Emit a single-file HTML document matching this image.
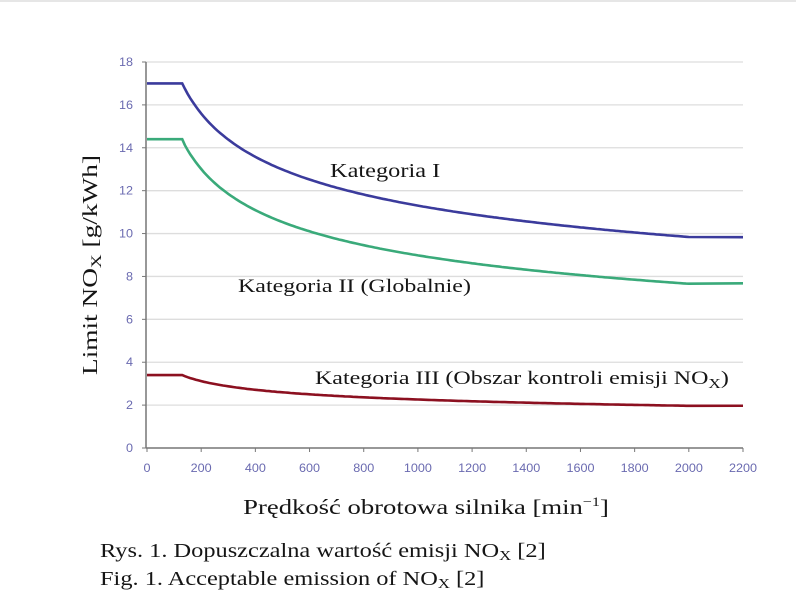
<!DOCTYPE html>
<html><head><meta charset="utf-8"><style>
html,body{margin:0;padding:0;background:#fff;width:796px;height:615px;overflow:hidden}
svg{display:block}
.t{font-family:"Liberation Sans",sans-serif;font-size:12px;fill:#6a6ab0}
.s{font-family:"Liberation Serif",serif;fill:#151515}
</style></head><body>
<svg id="c" width="796" height="615" xmlns="http://www.w3.org/2000/svg">
<line x1="0" y1="1" x2="796" y2="1" stroke="#ccc" stroke-width="1"/>
<g id="grid"></g>
<line x1="146" y1="62" x2="146" y2="448" stroke="#777" stroke-width="1.5"/>
<line x1="146" y1="448" x2="743" y2="448" stroke="#777" stroke-width="1.5"/>
<g id="ticks"></g>
<path id="p1" fill="none" stroke="#3b3b9c" stroke-width="2.6"/>
<path id="p2" fill="none" stroke="#3aaa7a" stroke-width="2.6"/>
<path id="p3" fill="none" stroke="#8c1020" stroke-width="2.6"/>
<text class="s" font-size="19.5" transform="translate(330,177) scale(1.25,1)">Kategoria I</text>
<text class="s" font-size="19.5" transform="translate(238,292) scale(1.23,1)">Kategoria II (Globalnie)</text>
<text class="s" font-size="19.5" transform="translate(315,384) scale(1.23,1)">Kategoria III (Obszar kontroli emisji NO<tspan font-size="14" dy="4">X</tspan><tspan dy="-4">)</tspan></text>
<text class="s" font-size="21.5" transform="translate(97,265) rotate(-90) scale(1.27,1)" text-anchor="middle">Limit NO<tspan font-size="15" dy="4">X</tspan><tspan dy="-4"> [g/kWh]</tspan></text>
<text class="s" font-size="21.5" transform="translate(426,514) scale(1.24,1)" text-anchor="middle">Prędkość obrotowa silnika [min<tspan font-size="13" dy="-8">−1</tspan><tspan dy="8">]</tspan></text>
<text class="s" font-size="20.5" transform="translate(100,557) scale(1.19,1)">Rys. 1. Dopuszczalna wartość emisji NO<tspan font-size="14" dy="3">X</tspan><tspan dy="-3"> [2]</tspan></text>
<text class="s" font-size="20.5" transform="translate(100,585) scale(1.19,1)">Fig. 1.  Acceptable emission of NO<tspan font-size="14" dy="3">X</tspan><tspan dy="-3"> [2]</tspan></text>
</svg>
<script>
var NS="http://www.w3.org/2000/svg";
function X(n){return 147+n/2200*596}
function Y(v){return 448-v/18*386}
var g=document.getElementById('grid'),tk=document.getElementById('ticks');
function el(p,t,a,txt){var e=document.createElementNS(NS,t);for(var k in a)e.setAttribute(k,a[k]);if(txt)e.textContent=txt;p.appendChild(e);return e}
for(var v=2;v<=18;v+=2)el(g,'line',{x1:146,x2:743,y1:Y(v),y2:Y(v),stroke:'#ddd','stroke-width':1.3});
for(var v=0;v<=18;v+=2){el(tk,'line',{x1:142,x2:146,y1:Y(v),y2:Y(v),stroke:'#777'});el(tk,'text',{'class':'t','text-anchor':'end',transform:'translate(133,'+(Y(v)+4)+') scale(1.05,1)'},String(v));}
for(var n=0;n<=2200;n+=200){el(tk,'line',{x1:X(n),x2:X(n),y1:448,y2:452,stroke:'#777'});el(tk,'text',{'class':'t','text-anchor':'middle',transform:'translate('+X(n)+',472) scale(1.05,1)'},String(n));}
function curve(id,c0,a,b,cend){var d='M'+X(0)+','+Y(c0)+' L'+X(130)+','+Y(c0);
for(var n=140;n<=2000;n+=10){d+=' L'+X(n).toFixed(1)+','+Y(a*Math.pow(n,-b)).toFixed(1)}
d+=' L'+X(2200)+','+Y(cend);document.getElementById(id).setAttribute('d',d)}
curve('p1',17,45,0.2,9.83);
curve('p2',14.4,44,0.23,7.68);
curve('p3',3.4,9,0.2,1.97);
</script>
</body></html>
